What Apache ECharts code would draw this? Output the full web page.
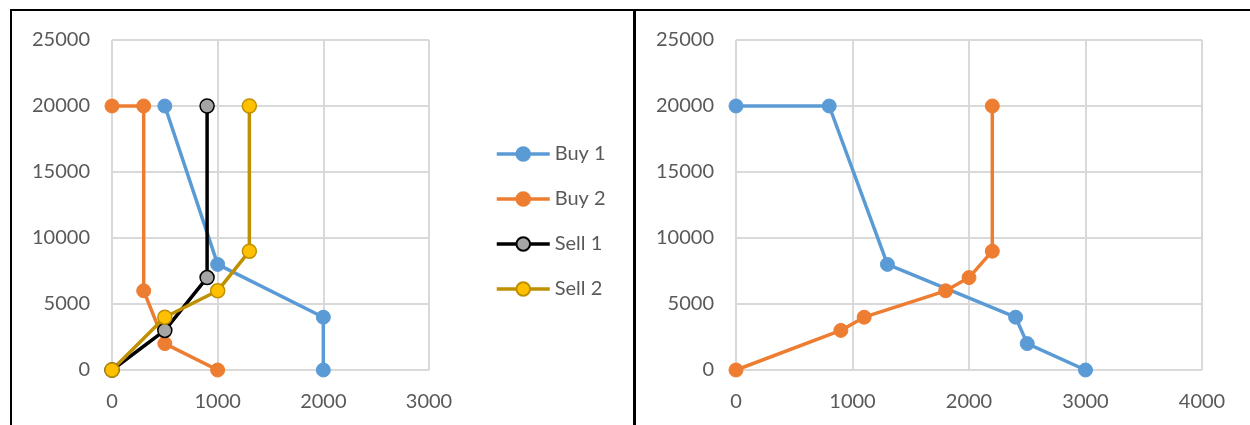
<!DOCTYPE html>
<html>
<head>
<meta charset="utf-8">
<script src="https://cdn.jsdelivr.net/npm/echarts@6/dist/echarts.min.js"></script>
<style>
  html, body { margin: 0; padding: 0; background: #fff; }
  #chart { position: absolute; left: 0; top: 0; width: 1250px; height: 425px; }
  .ln { position: absolute; background: #000; }
</style>
</head>
<body>
<div id="chart"></div>
<div class="ln" style="left:10px; top:9px; width:1240px; height:2px;"></div>
<div class="ln" style="left:10px; top:9px; width:2px; height:416px;"></div>
<div class="ln" style="left:633px; top:9px; width:3px; height:416px;"></div>
<script>
// ---- Left chart data ----
const leftXTicks = [0, 1000, 2000, 3000];
const leftYTicks = [0, 5000, 10000, 15000, 20000, 25000];
const buy1X = [500, 1000, 2000, 2000];
const buy1Y = [20000, 8000, 4000, 0];
const buy2X = [0, 300, 300, 500, 1000];
const buy2Y = [20000, 20000, 6000, 2000, 0];
const sell1X = [0, 500, 900, 900];
const sell1Y = [0, 3000, 7000, 20000];
const sell2X = [0, 500, 1000, 1300, 1300];
const sell2Y = [0, 4000, 6000, 9000, 20000];
const leftNames = ['Buy 1', 'Buy 2', 'Sell 1', 'Sell 2'];

// ---- Right chart data ----
const rightXTicks = [0, 1000, 2000, 3000, 4000];
const rightYTicks = [0, 5000, 10000, 15000, 20000, 25000];
const rBlueX = [0, 800, 1300, 2400, 2500, 3000];
const rBlueY = [20000, 20000, 8000, 4000, 2000, 0];
const rOrangeX = [0, 900, 1100, 1800, 2000, 2200, 2200];
const rOrangeY = [0, 3000, 4000, 6000, 7000, 9000, 20000];

const zip = (xs, ys) => xs.map((x, i) => [x, ys[i]]);

const FONT = 'Lato';
const LABEL = '#595959';
const GRIDC = '#D9D9D9';

function axisCommon(gi, ticks) {
  return {
    type: 'value', gridIndex: gi,
    min: ticks[0], max: ticks[ticks.length - 1], interval: ticks[1] - ticks[0],
    axisLine: { show: false }, axisTick: { show: false },
    splitLine: { show: true, lineStyle: { color: GRIDC, width: 2 } },
    axisLabel: { color: LABEL, fontFamily: FONT, fontSize: 20, margin: 22,
                 formatter: v => String(v) }
  };
}

function lineSeries(name, data, gi, lineColor, fill, border, bw) {
  return {
    name: name, type: 'line', xAxisIndex: gi, yAxisIndex: gi,
    data: data, symbol: 'circle', symbolSize: 14, showSymbol: true, showAllSymbol: true,
    lineStyle: { color: lineColor, width: 3.5 },
    itemStyle: { color: fill, borderColor: border, borderWidth: bw },
    emphasis: { disabled: true },
    z: 2
  };
}

const chart = echarts.init(document.getElementById('chart'), null, { renderer: 'canvas' });
chart.setOption({
  animation: false,
  backgroundColor: 'transparent',
  grid: [
    { left: 112, top: 40, width: 317, height: 330 },
    { left: 736, top: 40, width: 466, height: 330 }
  ],
  xAxis: [axisCommon(0, leftXTicks), axisCommon(1, rightXTicks)],
  yAxis: [axisCommon(0, leftYTicks), axisCommon(1, rightYTicks)],
  legend: {
    data: leftNames,
    orient: 'vertical', left: 490, top: 138,
    itemWidth: 53, itemHeight: 17, itemGap: 23,
    lineStyle: { width: 3.5 },
    textStyle: { color: LABEL, fontFamily: FONT, fontSize: 20, lineHeight: 22 },
    selectedMode: false
  },
  series: [
    lineSeries(leftNames[0], zip(buy1X, buy1Y), 0, '#5B9BD5', '#5B9BD5', '#5B9BD5', 1),
    lineSeries(leftNames[1], zip(buy2X, buy2Y), 0, '#ED7D31', '#ED7D31', '#ED7D31', 1),
    lineSeries(leftNames[2], zip(sell1X, sell1Y), 0, '#000000', '#A5A5A5', '#000000', 1.5),
    lineSeries(leftNames[3], zip(sell2X, sell2Y), 0, '#BF9000', '#FFC000', '#BF9000', 1.5),
    lineSeries('Series 1', zip(rBlueX, rBlueY), 1, '#5B9BD5', '#5B9BD5', '#5B9BD5', 1),
    lineSeries('Series 2', zip(rOrangeX, rOrangeY), 1, '#ED7D31', '#ED7D31', '#ED7D31', 1)
  ]
});
</script>
</body>
</html>
